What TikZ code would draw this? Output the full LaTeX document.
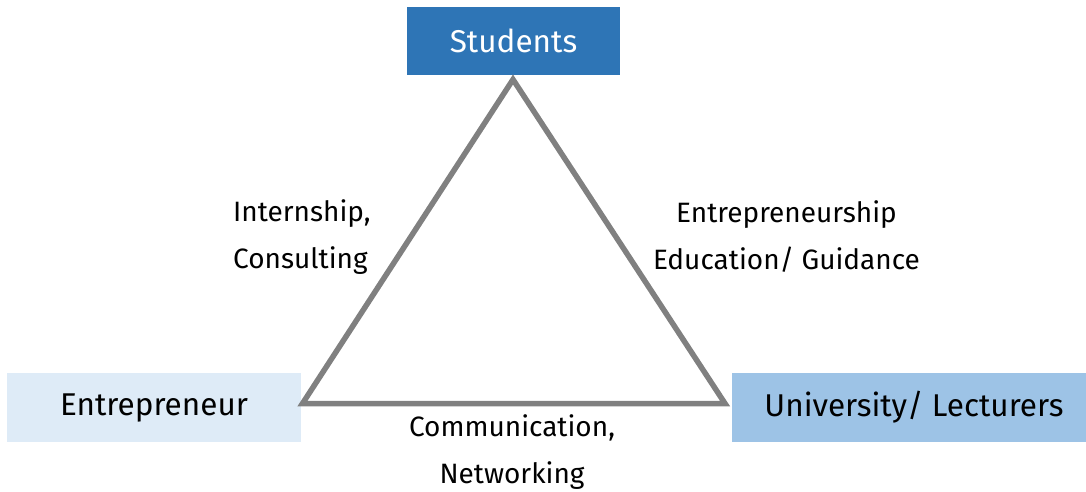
\documentclass[tikz,border=0pt]{standalone}
\usepackage{fontspec}
\setmainfont{Fira Sans}
\definecolor{stublue}{HTML}{2E75B6}
\definecolor{entblue}{HTML}{DEEBF7}
\definecolor{uniblue}{HTML}{9DC3E6}
\definecolor{trigray}{HTML}{808080}
\tikzset{
  boxnode/.style={rectangle, inner sep=0pt, minimum height=68.5pt, font=\fontsize{31.5}{36}\selectfont},
  labelnode/.style={inner sep=0pt, font=\fontsize{28}{47}\selectfont, text=black},
  triline/.style={draw=trigray, line width=5.5pt, line join=miter}
}
\begin{document}
\begin{tikzpicture}[x=1pt,y=-1pt]
\useasboundingbox (0,0) rectangle (1086,492);
\node[boxnode, fill=stublue, text=white, minimum width=213pt] (stu) at (513.5,41) {Students};
\node[boxnode, fill=entblue, text=black, minimum width=294pt] (ent) at (154,407.5) {Entrepreneur};
\node[boxnode, fill=uniblue, text=black, minimum width=354pt] (uni) at (909,407.5) {\hspace*{10pt}University/ Lecturers};
\coordinate (apex) at (513,79.5);
\coordinate (lv) at (302.5,403.5);
\coordinate (rv) at (725,403.5);
\draw[triline] (apex) -- (lv) -- (rv) -- cycle;
\node[labelnode, align=left, anchor=west] (lab1) at (233,237) {Internship,\\Consulting};
\node[labelnode, align=center] (lab2) at (786.5,237) {Entrepreneurship\\Education/ Guidance};
\node[labelnode, align=center] (lab3) at (512,452) {Communication,\\Networking};
\end{tikzpicture}
\end{document}
